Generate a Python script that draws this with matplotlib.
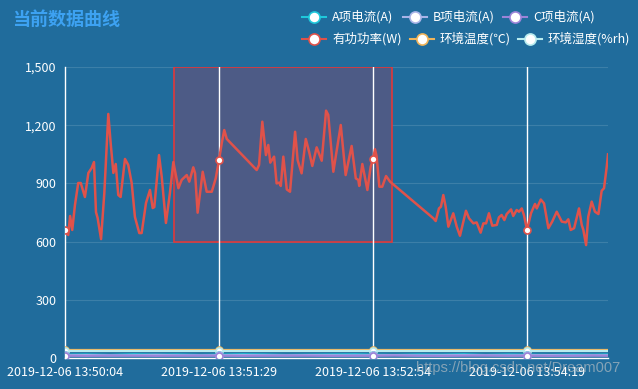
import matplotlib.pyplot as plt
from matplotlib.lines import Line2D
from matplotlib.patches import Rectangle
from matplotlib.ticker import FuncFormatter

plt.rcParams["font.family"] = ["Noto Sans CJK SC", "DejaVu Sans"]

BG = "#206c9c"

# seconds after 13:50:04 and active power (W)
power_t = [
    0, 1.8, 2.8, 4.0, 5.5, 7.3, 8.7, 11.0, 12.9, 14.7, 16.0, 17.1, 18.0, 19.9,
    21.7, 23.9, 25.2, 26.7, 28.0, 29.4, 30.7, 33.1, 34.9, 36.8, 38.6, 41.0,
    42.3, 44.7, 46.9, 48.4, 49.3, 51.9, 53.4, 55.7, 57.9, 59.8, 62.6, 64.4,
    67.2, 68.6, 70.8, 71.8, 73.2, 76.0, 78.2, 81.0, 83.2, 85.0, 86.5, 87.9,
    89.3, 105.8, 107.1, 108.9, 110.9, 112.2, 113.3, 115.4, 116.8, 118.3,
    119.1, 120.5, 122.4, 124.2, 127.0, 128.4, 130.6, 132.9, 134.7, 136.5,
    138.9, 141.7, 144.1, 145.3, 148.1, 150.0, 152.2, 154.9, 158.2, 160.5,
    161.9, 162.4, 164.1, 166.9, 168.7, 170.0, 171.1, 172.0, 173.5, 175.1,
    177.2, 179.4, 203.3, 204.6, 206.4, 207.5, 208.8, 210.1, 211.6, 214.3,
    216.2, 218.0, 221.3, 223.0, 225.4, 227.2, 229.4, 230.9, 232.4, 234.0,
    235.8, 238.3, 239.5, 241.0, 242.5, 243.8, 246.2, 247.4, 249.3, 250.6,
    252.1, 253.3, 255.0, 257.2, 259.4, 260.4, 262.6, 264.4, 266.8, 268.9,
    271.4, 274.2, 276.4, 277.8, 279.1, 281.0, 283.7, 285.2, 286.1, 287.6,
    288.8, 290.7, 292.5, 294.4, 296.2, 297.5, 299.0, 299.7,
]
power_w = [
    660, 634, 732, 660, 789, 902, 902, 830, 954, 979, 1010, 752, 722, 613,
    850, 1258, 1108, 954, 1000, 840, 830, 1026, 995, 902, 727, 644,
    644, 799, 866, 773, 778, 1046, 933, 696, 850, 1010, 875, 918,
    943, 909, 983, 952, 749, 960, 857, 857, 926, 1020, 1107, 1175,
    1129, 969, 995, 1218, 1046, 1098, 1007, 1038, 900, 904,
    887, 1038, 869, 857, 1166, 1020, 952, 1129, 1064, 990,
    1086, 1017, 1275, 1253, 960, 1072, 1201, 943, 1093, 926,
    918, 887, 1000, 866, 986, 1024, 1076, 1038, 883, 883,
    938, 909, 720, 706, 771, 780, 840, 780, 677, 746,
    677, 630, 759, 720, 694, 699, 646, 694, 694, 746,
    682, 686, 725, 737, 711, 742, 766, 732, 763, 754,
    771, 737, 660, 746, 794, 771, 817, 797, 669, 703,
    754, 703, 699, 715, 660, 669, 771, 686, 660, 582,
    728, 806, 754, 742, 862, 875, 986, 1050,
]

# low-valued series, sampled coarsely
low_t = [0, 12, 25, 38, 50, 62, 75, 85, 98, 110, 122, 135, 148, 160, 170,
         182, 195, 208, 220, 232, 245, 255, 268, 280, 292, 299.7]
cur_a = [17, 18, 16, 19, 17, 18, 16, 17, 19, 18, 16, 17, 18, 19, 17,
         16, 18, 17, 19, 16, 18, 17, 16, 18, 17, 18]
cur_b = [14, 15, 13, 14, 16, 14, 13, 14, 15, 14, 13, 15, 14, 13, 14,
         15, 13, 14, 15, 14, 13, 14, 15, 13, 14, 14]
cur_c = [12, 11, 13, 12, 11, 12, 13, 12, 11, 12, 13, 12, 11, 12, 12,
         13, 12, 11, 12, 13, 12, 12, 11, 12, 13, 12]
temp = [42] * len(low_t)
humid = [37] * len(low_t)

tick_t = [0, 85, 170, 255]
tick_labels = ["2019-12-06 13:50:04", "2019-12-06 13:51:29",
               "2019-12-06 13:52:54", "2019-12-06 13:54:19"]

names = ["A项电流(A)", "B项电流(A)", "C项电流(A)",
         "有功功率(W)", "环境温度(℃)", "环境湿度(%rh)"]
colors = ["#1fc8db", "#a9b4e8", "#9c84d8", "#e0524a", "#f0b45a", "#b8ecef"]

fig = plt.figure(figsize=(6.38, 3.89), dpi=100, facecolor=BG)
ax = fig.add_axes([65 / 638, 1 - 358 / 389, 543 / 638, 291 / 389])
ax.set_facecolor(BG)

# zoomed area
ax.add_patch(Rectangle((60.2, 600), 120.3, 900, facecolor="#4d5b86",
                       edgecolor="#e0393a", linewidth=1.2, zorder=1))

for y in [300, 600, 900, 1200, 1500]:
    ax.axhline(y, color="#ffffff", alpha=0.13, linewidth=0.8, zorder=0.5)
for t in tick_t[1:]:
    ax.axvline(t, color="white", linewidth=1, zorder=1.5)

mk = dict(marker="o", markersize=5, markerfacecolor="white",
          markeredgewidth=1.2)
low_idx = [low_t.index(t) for t in tick_t]
for vals, col in [(temp, colors[4]), (humid, colors[5]), (cur_a, colors[0]),
                  (cur_b, colors[1]), (cur_c, colors[2])]:
    ax.plot(low_t, vals, color=col, linewidth=1.6, markevery=low_idx,
            markeredgecolor=col, solid_joinstyle="round", zorder=3, **mk)

pw_idx = [power_t.index(t) for t in tick_t]
ax.plot(power_t, power_w, color=colors[3], linewidth=1.8,
        solid_joinstyle="round", markevery=pw_idx,
        markeredgecolor=colors[3], zorder=4, **mk)

ax.set_xlim(0, 299.7)
ax.set_ylim(0, 1500)
ax.set_yticks([0, 300, 600, 900, 1200, 1500])
ax.yaxis.set_major_formatter(FuncFormatter(lambda v, p: f"{int(v):,}"))
ax.set_xticks(tick_t)
ax.set_xticklabels(tick_labels)
ax.tick_params(colors="white", labelsize=9, length=0, pad=6)
for s in ["top", "right"]:
    ax.spines[s].set_visible(False)
for s in ["left", "bottom"]:
    ax.spines[s].set_color("white")
    ax.spines[s].set_linewidth(1)

fig.text(12 / 638, 1 - 19 / 389, "当前数据曲线", color="#3da2f2",
         fontsize=13, fontweight="bold", va="center", ha="left")

# legend, echarts style
legend_pos = [(302, 17), (403, 17), (503, 17), (302, 39), (410, 39), (518, 39)]
for (x, y), name, col in zip(legend_pos, names, colors):
    fy = 1 - y / 389
    fig.add_artist(Line2D([x / 638, (x + 24) / 638], [fy, fy], color=col,
                          linewidth=1.5, marker=None))
    fig.add_artist(Line2D([(x + 12) / 638], [fy], color=col, marker="o",
                          markersize=8, markerfacecolor="white",
                          markeredgecolor=col, markeredgewidth=1.2))
    fig.text((x + 30) / 638, fy, name, color="white", fontsize=9,
             va="center", ha="left")

fig.text(416 / 638, 1 - 368 / 389, "https://blog.csdn.net/Dream007",
         color="#c8c8c8", alpha=0.6, fontsize=10.5, va="center", ha="left",
         family="Liberation Sans")

fig.savefig("out.png", dpi=100, facecolor=BG)
